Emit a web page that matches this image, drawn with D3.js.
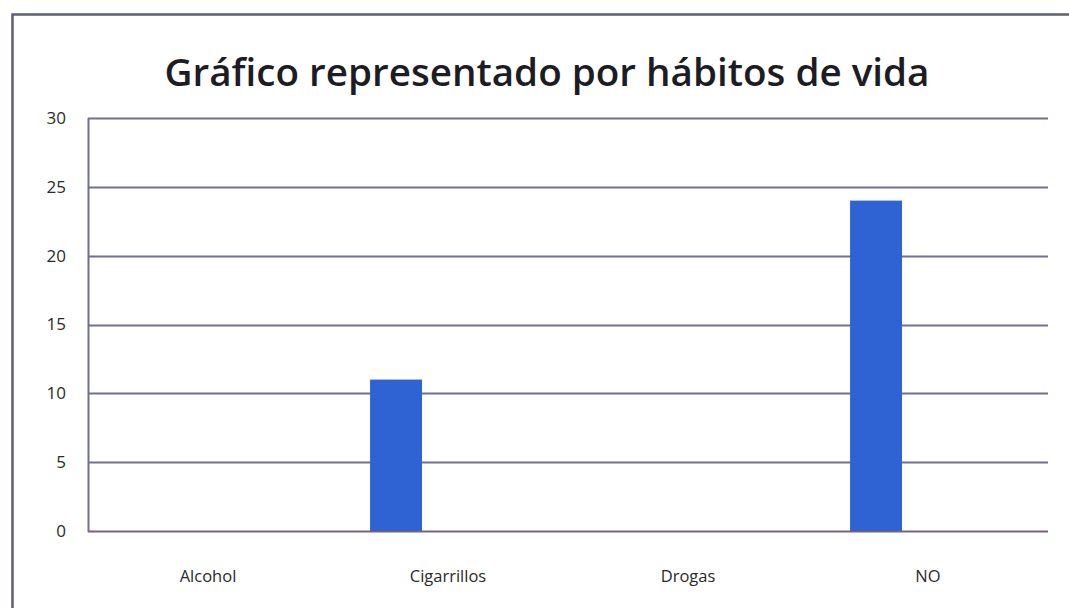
<!DOCTYPE html>
<html>
<head>
<meta charset="utf-8">
<script src="https://cdn.jsdelivr.net/npm/d3@7"></script>
<style>
  html, body { margin: 0; padding: 0; background: #ffffff; }
  svg { display: block; }
</style>
</head>
<body>
<div id="chart"></div>
<script>
// Survey counts by lifestyle habit
const categories = ["Alcohol", "Cigarrillos", "Drogas", "NO"];
const values = [0, 11, 0, 24];
const yTicks = [0, 5, 10, 15, 20, 25, 30];
const titleText = "Gráfico representado por hábitos de vida";

const W = 1069, H = 608;
const margin = { left: 88, right: 21, top: 118, bottom: 77 };

const svg = d3.select("#chart").append("svg")
  .attr("width", W).attr("height", H);

// outer frame (left and top edges of the chart area)
svg.append("path")
  .attr("d", `M12.5,${H} L12.5,14.5 L${W},14.5`)
  .attr("fill", "none")
  .attr("stroke", "#5d5d7c")
  .attr("stroke-width", 2.5);

svg.append("text")
  .attr("x", 547).attr("y", 86)
  .attr("text-anchor", "middle")
  .attr("font-family", "'Open Sans', sans-serif")
  .attr("font-weight", 600)
  .attr("font-size", 38)
  .attr("fill", "#1c1c24")
  .attr("textLength", 765)
  .attr("lengthAdjust", "spacingAndGlyphs")
  .text(titleText);

const x = d3.scaleBand()
  .domain(categories)
  .range([margin.left, W - margin.right])
  .padding(0);

// three slots per category; the series sits in the first slot
const slot = d3.scaleBand()
  .domain([0, 1, 2])
  .range([0, x.bandwidth()])
  .paddingInner(0)
  .paddingOuter(0.81);

const y = d3.scaleLinear()
  .domain([0, 30])
  .range([H - margin.bottom, margin.top]);

// horizontal gridlines
svg.append("g")
  .selectAll("line")
  .data(yTicks)
  .join("line")
  .attr("x1", margin.left).attr("x2", W - margin.right)
  .attr("y1", d => Math.round(y(d)) + 0.5)
  .attr("y2", d => Math.round(y(d)) + 0.5)
  .attr("stroke", d => d === 0 ? "#7a5f78" : "#707094")
  .attr("stroke-width", 2);

// vertical axis line
svg.append("line")
  .attr("x1", margin.left + 0.5).attr("x2", margin.left + 0.5)
  .attr("y1", y(30)).attr("y2", y(0) + 1)
  .attr("stroke", "#707094")
  .attr("stroke-width", 2);

// y tick labels
svg.append("g")
  .selectAll("text")
  .data(yTicks)
  .join("text")
  .attr("x", 66)
  .attr("y", d => y(d))
  .attr("dy", "0.35em")
  .attr("text-anchor", "end")
  .attr("font-family", "'Open Sans', sans-serif")
  .attr("font-size", 17)
  .attr("fill", "#2a2a2a")
  .text(d => d);

// bars
svg.append("g")
  .selectAll("rect")
  .data(categories.map((c, i) => ({ c, v: values[i] })).filter(d => d.v > 0))
  .join("rect")
  .attr("x", d => x(d.c) + slot(0))
  .attr("width", slot.bandwidth())
  .attr("y", d => y(d.v))
  .attr("height", d => y(0) - y(d.v))
  .attr("fill", "#2f62d2");

// category labels
svg.append("g")
  .selectAll("text")
  .data(categories)
  .join("text")
  .attr("x", d => x(d) + x.bandwidth() / 2)
  .attr("y", 582)
  .attr("text-anchor", "middle")
  .attr("font-family", "'Open Sans', sans-serif")
  .attr("font-size", 16.5)
  .attr("fill", "#2a2a2a")
  .text(d => d);
</script>
</body>
</html>
